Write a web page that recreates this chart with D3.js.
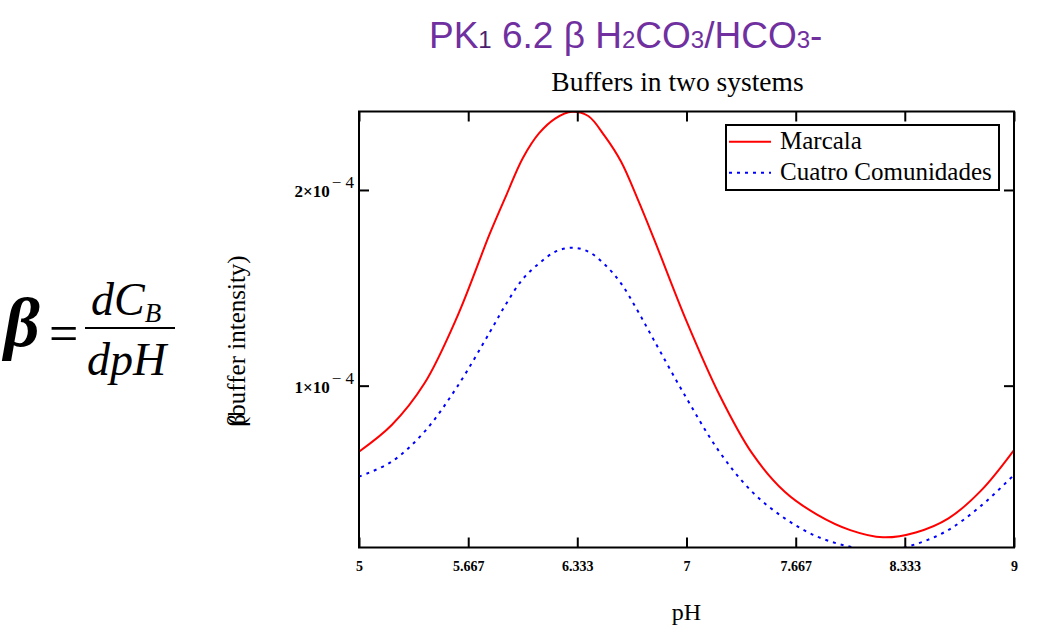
<!DOCTYPE html>
<html>
<head>
<meta charset="utf-8">
<script src="https://cdn.jsdelivr.net/npm/d3@7"></script>
<style>
  body { margin: 0; background: #fff; }
  svg { display: block; }
</style>
</head>
<body>
<div class="chart"></div>
<script>
// pH points
var ph = [5.0, 5.2, 5.4, 5.6, 5.8, 5.9, 6.0, 6.1, 6.2, 6.3, 6.4, 6.5, 6.6, 6.7, 6.8,
          7.0, 7.2, 7.4, 7.6, 7.8, 8.0, 8.2, 8.4, 8.6, 8.8, 9.0];
// buffer intensity, in units of 1e-4
var marcala = [0.663, 0.799, 1.012, 1.353, 1.779, 1.974, 2.162, 2.290, 2.366, 2.400, 2.378, 2.276, 2.145, 1.957, 1.753,
               1.330, 0.955, 0.655, 0.458, 0.340, 0.262, 0.225, 0.250, 0.322, 0.465, 0.671];
var cuatro = [0.535, 0.612, 0.765, 0.995, 1.275, 1.420, 1.545, 1.625, 1.685, 1.705, 1.685, 1.620, 1.523, 1.385, 1.234,
              0.936, 0.663, 0.458, 0.322, 0.228, 0.177, 0.155, 0.190, 0.263, 0.387, 0.544];

var xTicks = [5, 5.667, 6.333, 7, 7.667, 8.333, 9];
var xTickLabels = ["5", "5.667", "6.333", "7", "7.667", "8.333", "9"];
var yTicks = [1e-4, 2e-4];
var yTickLabels = [["1×10", "− 4"], ["2×10", "− 4"]];

var seriesNames = ["Marcala", "Cuatro Comunidades"];
var seriesColors = ["#ff0000", "#0000ff"];

var serif = "'Liberation Serif', 'Times New Roman', serif";
var sans = "'Liberation Sans', Arial, sans-serif";

var svg = d3.select(".chart")
    .append("svg")
    .attr("width", 1052)
    .attr("height", 632);

// plot frame in page pixels ("top" is taken by window.top, so prefixed names)
var plotLeft = 359, plotRight = 1014, plotTop = 111.5, plotBottom = 547.5;

var x = d3.scaleLinear()
    .domain([5, 9])
    .range([plotLeft, plotRight]);

var y = d3.scaleLinear()
    .domain([0.173e-4, 2.401e-4])
    .range([plotBottom, plotTop]);

svg.append("clipPath")
    .attr("id", "plotclip")
    .append("rect")
    .attr("x", plotLeft).attr("y", plotTop)
    .attr("width", plotRight - plotLeft).attr("height", plotBottom - plotTop);

// curves
var line = d3.line()
    .x(function (d) { return x(d[0]); })
    .y(function (d) { return y(d[1] * 1e-4); })
    .curve(d3.curveCatmullRom);

var rows = [marcala, cuatro].map(function (vals) {
    return ph.map(function (p, i) { return [p, vals[i]]; });
});

svg.append("g")
    .attr("clip-path", "url(#plotclip)")
    .selectAll("path")
    .data(rows)
    .enter()
    .append("path")
    .attr("d", line)
    .attr("fill", "none")
    .attr("stroke", function (d, i) { return seriesColors[i]; })
    .attr("stroke-width", 2)
    .attr("stroke-dasharray", function (d, i) { return i == 1 ? "3,5" : null; });

// axes, ticks pointing inward on all four sides
function styleAxis(g) {
    g.select(".domain").remove();
    g.selectAll(".tick line").attr("stroke", "#000").attr("stroke-width", 2);
}

var xAxis = svg.append("g")
    .attr("transform", "translate(0," + plotBottom + ")")
    .call(d3.axisBottom(x).tickValues(xTicks).tickSize(-10).tickPadding(14)
        .tickFormat(function (d, i) { return xTickLabels[i]; }));
styleAxis(xAxis);
xAxis.selectAll("text")
    .attr("font-family", serif)
    .attr("font-size", 14)
    .attr("font-weight", "bold")
    .attr("fill", "#000");

svg.append("g")
    .attr("transform", "translate(0," + plotTop + ")")
    .call(d3.axisTop(x).tickValues(xTicks).tickSize(-10).tickFormat(""))
    .call(styleAxis);

svg.append("g")
    .attr("transform", "translate(" + plotLeft + ",0)")
    .call(d3.axisLeft(y).tickValues(yTicks).tickSize(-10).tickFormat(""))
    .call(styleAxis);

svg.append("g")
    .attr("transform", "translate(" + plotRight + ",0)")
    .call(d3.axisRight(y).tickValues(yTicks).tickSize(-10).tickFormat(""))
    .call(styleAxis);

// y tick labels with superscript exponent
var yLab = svg.selectAll(".ylab")
    .data(yTicks)
    .enter()
    .append("text")
    .attr("class", "ylab")
    .attr("x", 354)
    .attr("y", function (d) { return y(d) + 7; })
    .attr("text-anchor", "end")
    .attr("font-family", serif)
    .attr("font-size", 17);
yLab.append("tspan")
    .attr("font-size", 17)
    .attr("font-weight", "bold")
    .text(function (d, i) { return yTickLabels[i][0]; });
yLab.append("tspan")
    .attr("dy", -9)
    .attr("dx", 2)
    .attr("font-size", 17)
    .text(function (d, i) { return yTickLabels[i][1]; });

svg.append("rect")
    .attr("x", plotLeft).attr("y", plotTop)
    .attr("width", plotRight - plotLeft).attr("height", plotBottom - plotTop)
    .attr("fill", "none")
    .attr("stroke", "#000")
    .attr("stroke-width", 2);

// legend
var legend = svg.append("g");
legend.append("rect")
    .attr("x", 726).attr("y", 125)
    .attr("width", 273).attr("height", 65)
    .attr("fill", "#fff")
    .attr("stroke", "#000")
    .attr("stroke-width", 2);

var legRows = legend.selectAll(".leg")
    .data(seriesNames)
    .enter()
    .append("g")
    .attr("class", "leg")
    .attr("transform", function (d, i) { return "translate(0," + (141.7 + i * 31) + ")"; });
legRows.append("line")
    .attr("x1", 729).attr("x2", 771)
    .attr("stroke", function (d, i) { return seriesColors[i]; })
    .attr("stroke-width", 2)
    .attr("stroke-dasharray", function (d, i) { return i == 1 ? "3,5" : null; });
legRows.append("text")
    .attr("x", 780)
    .attr("y", 7.5)
    .attr("font-family", serif)
    .attr("font-size", 25)
    .text(function (d) { return d; });

// titles
var title = svg.append("text")
    .attr("x", 429)
    .attr("y", 48)
    .attr("font-family", sans)
    .attr("fill", "#7030a0");
var titleParts = [["PK", 37], ["1", 24], [" 6.2 β H", 37], ["2", 24], ["CO", 37], ["3", 24],
                  ["/HCO", 37], ["3", 24], ["-", 37]];
title.selectAll("tspan")
    .data(titleParts)
    .enter()
    .append("tspan")
    .attr("font-size", function (d) { return d[1]; })
    .attr("fill", function (d, i) { return i == 1 ? "#4b1f6e" : null; })
    .text(function (d) { return d[0]; });

svg.append("text")
    .attr("x", 677.5)
    .attr("y", 91)
    .attr("text-anchor", "middle")
    .attr("font-family", serif)
    .attr("font-size", 27.5)
    .text("Buffers in two systems");

svg.append("text")
    .attr("x", 686.5)
    .attr("y", 620)
    .attr("text-anchor", "middle")
    .attr("font-family", serif)
    .attr("font-size", 24)
    .text("pH");

var yTitle = svg.append("text")
    .attr("transform", "translate(245,341) rotate(-90)")
    .attr("text-anchor", "middle")
    .attr("font-family", serif)
    .attr("font-size", 25);
yTitle.append("tspan").text("β");
yTitle.append("tspan").attr("dx", -11).text("(buffer intensity)");

// formula beta = dC_B / dpH
var f = svg.append("g")
    .attr("font-family", serif)
    .attr("font-style", "italic");
f.append("text")
    .attr("x", 4).attr("y", 346)
    .attr("font-size", 70)
    .attr("font-weight", "bold")
    .text("β");
f.append("text")
    .attr("x", 49).attr("y", 351)
    .attr("font-size", 52)
    .attr("font-style", "normal")
    .text("=");
f.append("line")
    .attr("x1", 85).attr("x2", 175)
    .attr("y1", 328).attr("y2", 328)
    .attr("stroke", "#000")
    .attr("stroke-width", 2);
var num = f.append("text")
    .attr("x", 91).attr("y", 315)
    .attr("font-size", 46);
num.append("tspan").text("dC");
num.append("tspan").attr("dy", 7).attr("font-size", 27).text("B");
f.append("text")
    .attr("x", 87).attr("y", 375)
    .attr("font-size", 46)
    .text("dpH");
</script>
</body>
</html>
